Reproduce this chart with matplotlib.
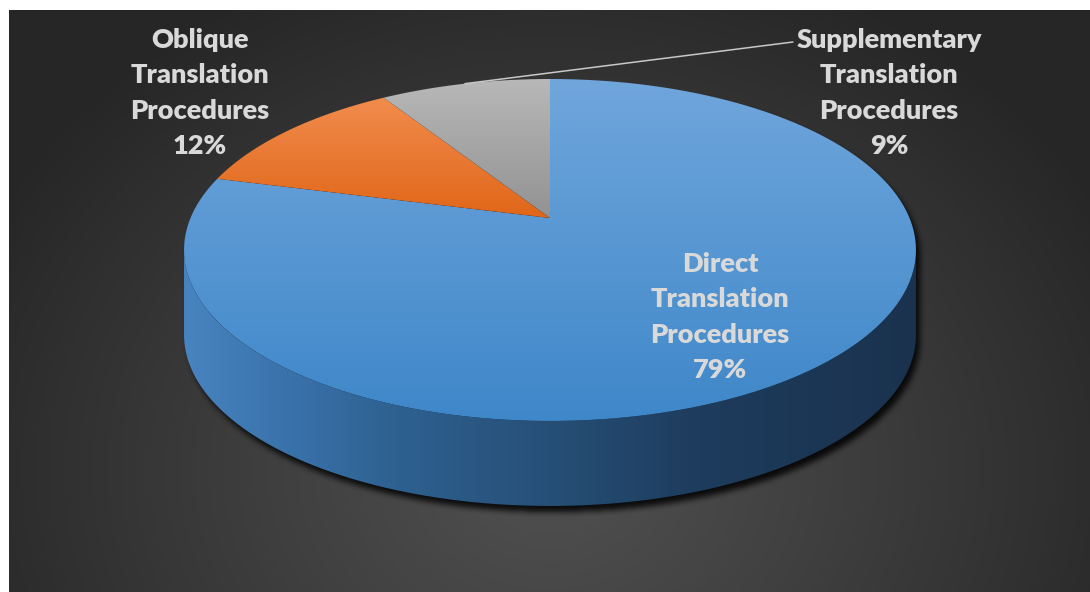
import numpy as np
import matplotlib
matplotlib.use("Agg")
import matplotlib.pyplot as plt
from matplotlib.patches import Polygon

# ---------------- data ----------------
categories = ["Direct\nTranslation\nProcedures",
              "Oblique\nTranslation\nProcedures",
              "Supplementary\nTranslation\nProcedures"]
values = [79, 12, 9]
# top colour / bottom colour of each slice's top face
slice_top_colors = [(112, 166, 220), (244, 146, 86), (184, 184, 184)]
slice_bot_colors = [(62, 135, 201), (224, 102, 24), (146, 146, 146)]
label_pos = [(720, 317), (200, 93), (889, 93)]

W, H = 1090, 592
fig = plt.figure(figsize=(W / 100, H / 100), dpi=100, facecolor="white")
ax = fig.add_axes([0, 0, 1, 1])
ax.axis("off")

# ---------------- 3D pie geometry (perspective disk) ----------------
cx, apex_y = 550.0, 218.0
A, B, k = 359.5, 165.0, 0.187
depth = 85.0
ell_cy = apex_y + B * k / (1 - k ** 2)
ell_a = A / np.sqrt(1 - k ** 2)
ell_b = B / (1 - k ** 2)


def proj(phi):
    u, v = np.sin(phi), np.cos(phi)
    s = 1.0 / (1.0 + k * v)
    return cx + A * u * s, apex_y - B * v * s


# ---------------- background radial gradient ----------------
yy, xx = np.mgrid[10:H, 9:W] + 0.5
d = np.sqrt(((xx - 550) / 640) ** 2 + ((yy - 470) / 540) ** 2)
t = np.clip(d, 0, 1) ** 1.1
c0 = np.array([80, 80, 80]) / 255
c1 = np.array([38, 38, 38]) / 255
bg = c0[None, None, :] * (1 - t[..., None]) + c1[None, None, :] * t[..., None]
ax.imshow(bg, extent=(9, W, H, 10), interpolation="bilinear", zorder=0, aspect="auto")

# ---------------- shadow ----------------
Y, X = np.mgrid[0:H, 0:W] + 0.5
Xs, Ys = X - 4, Y - 6
in_top = ((Xs - cx) / ell_a) ** 2 + ((Ys - ell_cy) / ell_b) ** 2 <= 1
in_bot = ((Xs - cx) / ell_a) ** 2 + ((Ys - ell_cy - depth) / ell_b) ** 2 <= 1
in_mid = (np.abs(Xs - cx) <= ell_a) & (Ys >= ell_cy) & (Ys <= ell_cy + depth)
mask = (in_top | in_bot | in_mid).astype(float)


def box_blur(m, r):
    kk = 2 * r + 1
    c = np.cumsum(np.pad(m, ((0, 0), (r + 1, r)), mode="edge"), axis=1)
    m = (c[:, kk:] - c[:, :-kk]) / kk
    c = np.cumsum(np.pad(m, ((r + 1, r), (0, 0)), mode="edge"), axis=0)
    m = (c[kk:, :] - c[:-kk, :]) / kk
    return m


blur = box_blur(box_blur(mask, 3), 3)
shadow = np.zeros((H, W, 4))
shadow[..., 3] = 0.85 * blur
ax.imshow(shadow, extent=(0, W, H, 0), interpolation="bilinear", zorder=1, aspect="auto")

# ---------------- side wall ----------------
ts = np.linspace(0, np.pi, 300)
sx = cx + ell_a * np.cos(ts)
sy = ell_cy + ell_b * np.sin(ts)
side_pts = np.concatenate([np.column_stack([sx, sy]),
                           np.column_stack([sx[::-1], sy[::-1] + depth])])
side_poly = Polygon(side_pts, closed=True, facecolor="none", edgecolor="none",
                    transform=ax.transData)
ax.add_patch(side_poly)
gx = np.linspace(cx - ell_a, cx + ell_a, 400)
stops_x = np.array([cx - ell_a, 300, 400, 550, 700, cx + ell_a])
stops_c = np.array([(72, 132, 192), (56, 112, 168), (46, 96, 143),
                    (38, 79, 119), (30, 60, 93), (26, 50, 78)]) / 255
side_img = np.stack([np.interp(gx, stops_x, stops_c[:, i]) for i in range(3)], axis=-1)[None, :, :]
im = ax.imshow(side_img, extent=(cx - ell_a, cx + ell_a, ell_cy + ell_b + depth + 1, ell_cy - 1),
               interpolation="bilinear", zorder=2, aspect="auto")
im.set_clip_path(side_poly)

# ---------------- top face slices ----------------
total = float(sum(values))
start = 0.0
mids = []
for i, v in enumerate(values):
    sweep = 2 * np.pi * v / total
    phis = np.linspace(start, start + sweep, max(int(v * 4), 20))
    px, py = proj(phis)
    pts = np.vstack([[cx, apex_y], np.column_stack([px, py])])
    poly = Polygon(pts, closed=True, facecolor="none", edgecolor="none", transform=ax.transData)
    ax.add_patch(poly)
    ytop, ybot = ell_cy - ell_b, ell_cy + ell_b
    yb = ybot if i == 0 else apex_y
    gy = np.linspace(ytop, ybot, 300)
    ct = np.array(slice_top_colors[i]) / 255
    cb = np.array(slice_bot_colors[i]) / 255
    f = np.clip((gy - ytop) / (yb - ytop), 0, 1)
    col = ct[None, :] * (1 - f[:, None]) + cb[None, :] * f[:, None]
    img = col[:, None, :]
    im = ax.imshow(img, extent=(cx - ell_a - 1, cx + ell_a + 1, ybot + 1, ytop - 1),
                   interpolation="bilinear", zorder=3, aspect="auto")
    im.set_clip_path(poly)
    mids.append(start + sweep / 2)
    start += sweep

# ---------------- labels ----------------
for i, (cat, v) in enumerate(zip(categories, values)):
    txt = f"{cat}\n{round(v / total * 100):.0f}%"
    lx, ly = label_pos[i]
    ax.text(lx, ly, txt, ha="center", va="center", color="#d9d9d9",
            fontsize=19.5, fontweight="heavy", family=["Lato", "DejaVu Sans"],
            linespacing=1.58, zorder=5)

# leader line for the smallest slice
mx, my = proj(mids[2])
ax.plot([mx, 793], [my, 42], color="#c8c8c8", lw=1.1, zorder=4, solid_capstyle="round")

ax.set_xlim(0, W)
ax.set_ylim(H, 0)
fig.savefig("out.png", dpi=100, facecolor="white")
